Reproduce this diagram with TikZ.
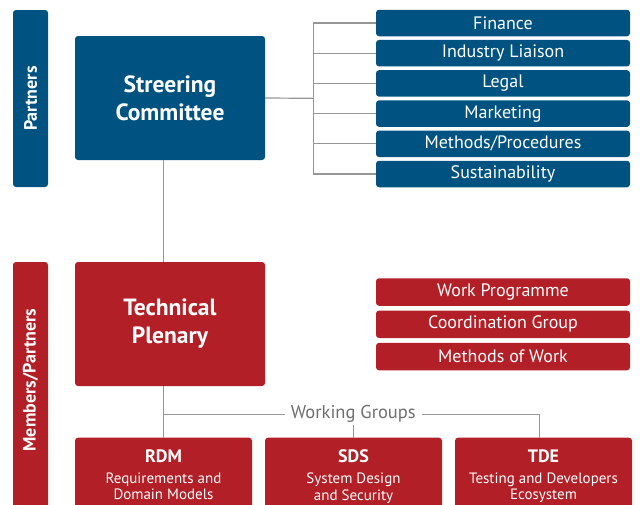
\documentclass[tikz,border=0pt]{standalone}
\usepackage{fontspec}
\setmainfont{PT Sans}
\definecolor{cblue}{RGB}{0,82,128}
\definecolor{cred}{RGB}{178,31,38}
\definecolor{cline}{RGB}{150,150,150}
\definecolor{cgtext}{RGB}{110,110,110}
\tikzset{
  boxbase/.style={rounded corners=3pt, text=white, inner sep=0pt, align=center},
  bluebox/.style={boxbase, fill=cblue},
  redbox/.style={boxbase, fill=cred},
  sidebox/.style={minimum width=254, minimum height=26.5, font=\fontsize{18}{20}\selectfont},
  bigbox/.style={minimum width=190, minimum height=124, font=\fontsize{23.5}{28}\selectfont\bfseries},
  wgbox/.style={redbox, minimum width=177, minimum height=80, anchor=north},
  wgtext/.style={text=white, inner sep=0pt, align=center, anchor=north, font=\fontsize{15}{16.5}\selectfont},
  conn/.style={draw=cline, line width=1.2pt},
}
\newcommand{\wgtitle}[1]{{\fontsize{18}{20}\selectfont\bfseries #1}\\[4.5pt]}
\begin{document}
\begin{tikzpicture}[x=1pt,y=-1pt]
\useasboundingbox (0,0) rectangle (640,504);
% vertical bars
\node[bluebox, rotate=90, minimum width=177, minimum height=35, font=\fontsize{18}{20}\selectfont\bfseries] (partners) at (30.5,98.5) {Partners};
\node[redbox, minimum width=35, minimum height=260] (members) at (30.5,392) {};
\node[text=white, rotate=90, inner sep=0pt, font=\fontsize{18}{20}\selectfont\bfseries] (memberslabel) at (30.5,380) {Members/Partners};
% main boxes
\node[bluebox, bigbox] (sc) at (170,98) {Streering\\Committee};
\node[redbox, bigbox] (tp) at (170,324) {Technical\\Plenary};
% right blue boxes
\node[bluebox, sidebox] (fin) at (503,23) {Finance};
\node[bluebox, sidebox] (ind) at (503,53.2) {Industry Liaison};
\node[bluebox, sidebox] (leg) at (503,83.4) {Legal};
\node[bluebox, sidebox] (mar) at (503,113.6) {Marketing};
\node[bluebox, sidebox] (met) at (503,143.8) {Methods/Procedures};
\node[bluebox, sidebox] (sus) at (503,174) {Sustainability};
% right red boxes
\node[redbox, sidebox, minimum height=27.5] (wp) at (503,292) {Work Programme};
\node[redbox, sidebox, minimum height=27.5] (cg) at (503,324.3) {Coordination Group};
\node[redbox, sidebox, minimum height=27.5] (mw) at (503,356.6) {Methods of Work};
% working group boxes
\node[wgbox] (rdm) at (163.5,437.5) {};
\node[wgbox] (sds) at (353.5,437.5) {};
\node[wgbox] (tde) at (543.5,437.5) {};
\node[wgtext] (rdmt) at (163.5,449.5) {\wgtitle{RDM}Requirements and\\Domain Models};
\node[wgtext] (sdst) at (353.5,449.5) {\wgtitle{SDS}System Design\\and Security};
\node[wgtext] (tdet) at (543.5,449.5) {\wgtitle{TDE}Testing and Developers\\Ecosystem};
% working groups label
\node[text=cgtext, inner sep=6pt, font=\fontsize{18.5}{20}\selectfont] (wg) at (353.3,413.5) {Working Groups};
% connectors
\coordinate (br) at (313.3,98.3);
\draw[conn] (sc.east) -- (br);
\draw[conn] (fin.west) -| (br);
\draw[conn] (sus.west) -| (br);
\foreach \n in {ind,leg,mar,met} \draw[conn] (\n.west) -- (\n.west -| br);
\draw[conn] (rdm.north |- sc.south) -- (rdm.north |- tp.north);
\draw[conn] (rdm.north |- tp.south) -- (rdm.north);
\coordinate (wgl) at (163.5,414.3);
\coordinate (tdetop) at (539.3,437.5);
\draw[conn] (wgl) -- (wgl -| wg.west);
\draw[conn] (wg.east |- wgl) -| (tdetop);
\draw[conn] (353.5,425) -- (sds.north);
\end{tikzpicture}
\end{document}
